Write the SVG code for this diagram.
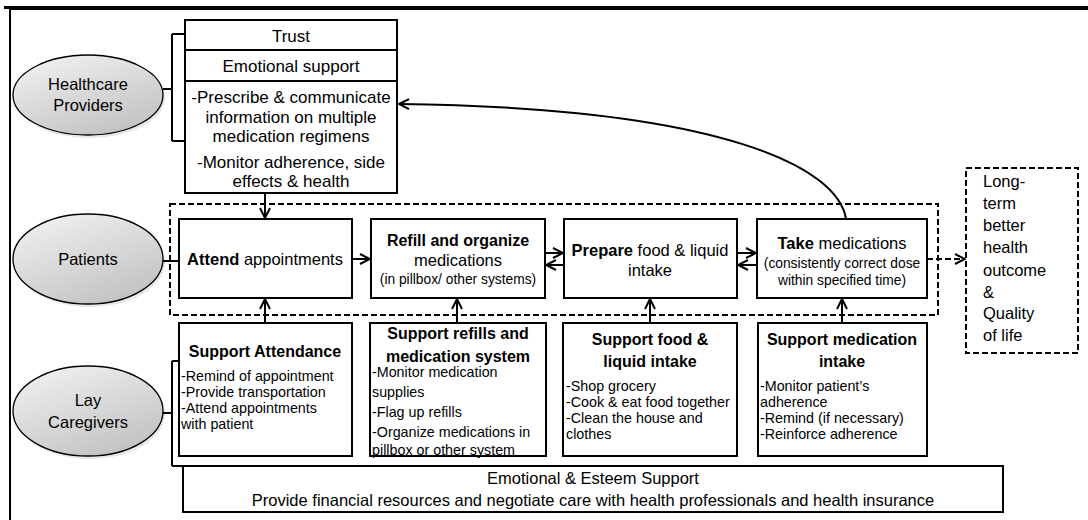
<svg xmlns="http://www.w3.org/2000/svg" width="1088" height="520" viewBox="0 0 1088 520">
<defs>
<linearGradient id="eg" x1="0" y1="0" x2="0.6" y2="1">
<stop offset="0" stop-color="#f4f4f4"/>
<stop offset="1" stop-color="#c4c4c4"/>
</linearGradient>
<marker id="ah" viewBox="0 0 12 12" markerWidth="12" markerHeight="12" refX="11" refY="6" orient="auto" markerUnits="userSpaceOnUse">
<path d="M1,1 L11,6 L1,11" fill="none" stroke="#000" stroke-width="2"/>
</marker>
</defs>
<style>
text{font-family:"Liberation Sans",Arial,sans-serif;fill:#000}
.t{font-size:16.5px;text-anchor:middle}
.p{font-size:17px;text-anchor:middle}
.o{font-size:16.5px;text-anchor:start}
.s{font-size:13.8px;text-anchor:middle}
.h{font-size:16px;font-weight:bold;text-anchor:middle}
.i{font-size:14.3px}
.box{fill:#fff;stroke:#000;stroke-width:2}
.ell{fill:url(#eg);stroke:#000;stroke-width:1.3}
.sh{fill:#d8d8d8;stroke:none;opacity:0.6}
.ln{fill:none;stroke:#000;stroke-width:2}
.ar{fill:none;stroke:#000;stroke-width:2;marker-end:url(#ah)}
.da{fill:none;stroke:#000;stroke-width:2;stroke-dasharray:6,3}
</style>
<rect width="1088" height="520" fill="#fff"/>
<g id="frame">
<path d="M10,520 L10,9 L1088,9" class="ln"/>
<line x1="4" y1="7.5" x2="1088" y2="7.5" stroke="#000" stroke-width="3"/>
</g>

<g id="healthcare-providers">
<ellipse cx="90" cy="98" rx="75" ry="40" class="sh"/>
<ellipse cx="88" cy="95" rx="75" ry="40" class="ell"/>
<text class="t" x="88" y="90">Healthcare</text>
<text class="t" x="88" y="111">Providers</text>
</g>
<g id="provider-roles">
<rect x="185" y="20" width="212" height="173" class="box"/>
<line x1="185" y1="50" x2="397" y2="50" class="ln"/>
<line x1="185" y1="81" x2="397" y2="81" class="ln"/>
<text class="p" x="291" y="42">Trust</text>
<text class="p" x="291" y="72">Emotional support</text>
<text class="p" x="291" y="103">-Prescribe &amp; communicate</text>
<text class="p" x="291" y="123">information on multiple</text>
<text class="p" x="291" y="142">medication regimens</text>
<text class="p" x="291" y="168">-Monitor adherence, side</text>
<text class="p" x="291" y="187">effects &amp; health</text>
</g>

<g id="patients">
<ellipse cx="90" cy="262" rx="75" ry="45" class="sh"/>
<ellipse cx="88" cy="259" rx="75" ry="45" class="ell"/>
<text class="t" x="88" y="265">Patients</text>
</g>
<g id="patient-group">
<rect x="170" y="204" width="768" height="111" class="da"/>
</g>
<g id="attend">
<rect x="179" y="219" width="173" height="79" class="box"/>
<text class="t" x="265" y="265"><tspan font-weight="bold">Attend</tspan> appointments</text>
</g>
<g id="refill">
<rect x="371" y="219" width="174" height="79" class="box"/>
<text class="h" x="458" y="246">Refill and organize</text>
<text class="t" x="458" y="266">medications</text>
<text class="s" x="458" y="284">(in pillbox/ other systems)</text>
</g>
<g id="prepare">
<rect x="564" y="219" width="173" height="79" class="box"/>
<text class="t" x="650" y="256"><tspan font-weight="bold">Prepare</tspan> food &amp; liquid</text>
<text class="t" x="650" y="276">intake</text>
</g>
<g id="take">
<rect x="757" y="219" width="170" height="79" class="box"/>
<text class="t" x="842" y="249"><tspan font-weight="bold">Take</tspan> medications</text>
<text class="s" x="842" y="268">(consistently correct dose</text>
<text class="s" x="842" y="285">within specified time)</text>
</g>
<g id="outcome">
<rect x="966" y="168" width="112" height="185" class="da"/>
<text class="o" x="983" y="187">Long-</text>
<text class="o" x="983" y="209">term</text>
<text class="o" x="983" y="231">better</text>
<text class="o" x="983" y="253">health</text>
<text class="o" x="983" y="276">outcome</text>
<text class="o" x="983" y="298">&amp;</text>
<text class="o" x="983" y="319">Quality</text>
<text class="o" x="983" y="341">of life</text>
</g>

<g id="lay-caregivers">
<ellipse cx="90" cy="414" rx="75" ry="45" class="sh"/>
<ellipse cx="88" cy="411" rx="75" ry="45" class="ell"/>
<text class="t" x="88" y="406">Lay</text>
<text class="t" x="88" y="428">Caregivers</text>
</g>
<g id="support-attendance">
<rect x="179" y="323" width="173" height="133" class="box"/>
<text class="h" x="265" y="357">Support Attendance</text>
<text class="i" x="181" y="381">-Remind of appointment</text>
<text class="i" x="181" y="397">-Provide transportation</text>
<text class="i" x="181" y="413">-Attend appointments</text>
<text class="i" x="181" y="429">with patient</text>
</g>
<g id="support-refills">
<rect x="370" y="323" width="176" height="133" class="box"/>
<text class="h" x="458" y="339">Support refills and</text>
<text class="h" x="458" y="362">medication system</text>
<text class="i" x="372" y="377">-Monitor medication</text>
<text class="i" x="372" y="397">supplies</text>
<text class="i" x="372" y="417">-Flag up refills</text>
<text class="i" x="372" y="437">-Organize medications in</text>
<text class="i" x="372" y="455">pillbox or other system</text>
</g>
<g id="support-food">
<rect x="563" y="323" width="174" height="133" class="box"/>
<text class="h" x="650" y="345">Support food &amp;</text>
<text class="h" x="650" y="367">liquid intake</text>
<text class="i" x="566" y="391">-Shop grocery</text>
<text class="i" x="566" y="407">-Cook &amp; eat food together</text>
<text class="i" x="566" y="423">-Clean the house and</text>
<text class="i" x="566" y="439">clothes</text>
</g>
<g id="support-medication">
<rect x="758" y="323" width="169" height="133" class="box"/>
<text class="h" x="842" y="345">Support medication</text>
<text class="h" x="842" y="367">intake</text>
<text class="i" x="760" y="391">-Monitor patient’s</text>
<text class="i" x="760" y="407">adherence</text>
<text class="i" x="760" y="423">-Remind (if necessary)</text>
<text class="i" x="760" y="439">-Reinforce adherence</text>
</g>
<g id="emotional-esteem">
<rect x="183" y="466" width="820" height="46" class="box"/>
<text class="t" x="593" y="484">Emotional &amp; Esteem Support</text>
<text class="t" x="593" y="506">Provide financial resources and negotiate care with health professionals and health insurance</text>
</g>

<g id="connectors">
<path d="M163,89 H172 M172,34 V141 M172,34 H185 M172,141 H185" class="ln" stroke-width="1.8"/>
<path d="M163,261 H179" class="ln" stroke-width="1.8"/>
<path d="M163,413 H172 M172,361 V466 M172,361 H179 M172,466 H183" class="ln" stroke-width="1.8"/>
<path d="M265,193 V218" class="ar"/>
<path d="M352,259 H370" class="ar"/>
<path d="M545,253 H563" class="ar"/>
<path d="M564,265 H546" class="ar"/>
<path d="M737,253 H756" class="ar"/>
<path d="M757,265 H738" class="ar"/>
<path d="M927,259 H965" class="da" marker-end="url(#ah)"/>
<path d="M265,323 V299" class="ar"/>
<path d="M457,323 V299" class="ar"/>
<path d="M650,323 V299" class="ar"/>
<path d="M842,323 V299" class="ar"/>
<path d="M846,219 C838,168 725,108 399,104" class="ar"/>
</g>
</svg>
